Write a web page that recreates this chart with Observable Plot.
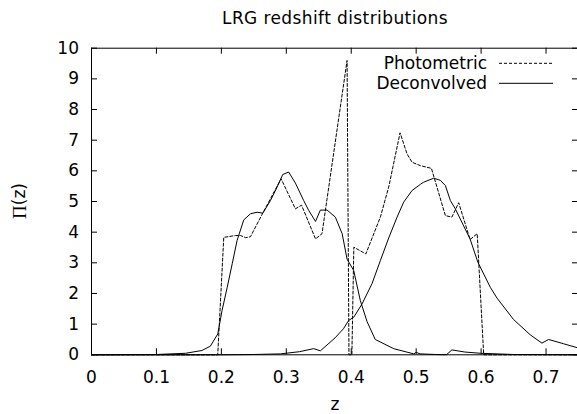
<!DOCTYPE html>
<html>
<head>
<meta charset="utf-8">
<script src="https://cdn.jsdelivr.net/npm/d3@7"></script>
<script src="https://cdn.jsdelivr.net/npm/@observablehq/plot@0.6"></script>
<style>
  html, body { margin: 0; padding: 0; background: #fff; overflow: hidden; }
  svg { display: block; }
</style>
</head>
<body>
<div id="chart"></div>
<script>
// ---- data ----
const title = "LRG redshift distributions";
const xLabel = "z";
const yLabelSymbol = "Π";
const yLabelRest = "(z)";
const seriesNames = ["Photometric", "Deconvolved"];

const xTickValues = [0, 0.1, 0.2, 0.3, 0.4, 0.5, 0.6, 0.7];
const xTickLabels = ["0", "0.1", "0.2", "0.3", "0.4", "0.5", "0.6", "0.7"];
const yTickValues = [0, 1, 2, 3, 4, 5, 6, 7, 8, 9, 10];

// Photometric redshift distribution [z, Π(z)]
const photometric = [
  [0, 0], [0.1944, 0], [0.2037, 3.83], [0.2217, 3.89], [0.2294, 3.89], [0.2375, 3.82],
  [0.2448, 3.85], [0.262, 4.55], [0.292, 5.74], [0.314, 4.76], [0.3235, 4.88],
  [0.345, 3.78], [0.355, 3.95], [0.3936, 9.6], [0.3965, 0], [0.401, 0], [0.404, 3.51],
  [0.4225, 3.29], [0.445, 4.5], [0.4577, 5.47], [0.4752, 7.24], [0.486, 6.55],
  [0.4937, 6.28], [0.5065, 6.17], [0.5235, 6.08], [0.545, 4.54], [0.555, 4.49],
  [0.5655, 4.96], [0.583, 3.76], [0.594, 3.95], [0.604, 0], [0.75, 0]
];

// Deconvolved distribution, low-z sample
const deconvolvedLow = [
  [0, 0], [0.1, 0.01], [0.145, 0.05], [0.17, 0.14], [0.183, 0.28], [0.1945, 0.68],
  [0.201, 1.44], [0.209, 2.2], [0.2167, 2.97], [0.2242, 3.73], [0.2345, 4.4],
  [0.2448, 4.6], [0.255, 4.65], [0.2638, 4.62], [0.2756, 5.03], [0.2858, 5.47],
  [0.2945, 5.88], [0.3037, 5.96], [0.314, 5.6], [0.3268, 5.03], [0.3345, 4.71],
  [0.345, 4.35], [0.3525, 4.72], [0.3628, 4.72], [0.3756, 4.49], [0.386, 3.95],
  [0.3936, 3.12], [0.4038, 2.75], [0.414, 1.77], [0.4244, 1.08], [0.437, 0.5],
  [0.4654, 0.2], [0.4963, 0.03], [0.5, 0.08], [0.506, 0.03], [0.53, 0.01],
  [0.5465, 0], [0.555, 0.16], [0.575, 0.09], [0.599, 0.05], [0.65, 0.01], [0.75, 0]
];

// Deconvolved distribution, high-z sample
const deconvolvedHigh = [
  [0, 0], [0.2, 0], [0.25, 0.01], [0.291, 0.03], [0.32, 0.1], [0.342, 0.2],
  [0.3525, 0.13], [0.375, 0.55], [0.388, 0.85], [0.396, 1.12], [0.404, 1.23],
  [0.4167, 1.66], [0.432, 2.32], [0.445, 3.08], [0.4577, 3.81], [0.4706, 4.49],
  [0.4808, 4.98], [0.4937, 5.36], [0.5065, 5.56], [0.5116, 5.63], [0.527, 5.76],
  [0.5373, 5.69], [0.545, 5.52], [0.5527, 5.03], [0.5603, 4.76], [0.5732, 4.2],
  [0.583, 3.78], [0.595, 3.02], [0.6142, 2.2], [0.6245, 1.85], [0.65, 1.15],
  [0.6758, 0.65], [0.6937, 0.38], [0.704, 0.5], [0.727, 0.36], [0.75, 0.22]
];

// ---- layout ----
const W = 577, H = 414;
const mL = 91, mR = -1, mT = 47.7, mB = 59.7;
const innerW = W - mL - mR, innerH = H - mT - mB;
const tickLen = 6;
const font = "DejaVu Sans";

const plot = Plot.plot({
  width: W,
  height: H,
  marginLeft: mL,
  marginRight: mR,
  marginTop: mT,
  marginBottom: mB,
  style: { fontFamily: font, fontSize: "17px", background: "white", color: "black", overflow: "visible" },
  x: { domain: [0, 0.75] },
  y: { domain: [0, 10] },
  marks: [
    Plot.frame({ stroke: "black", strokeWidth: 1 }),
    // inward ticks on all four sides
    Plot.ruleX(xTickValues, { x: d => d, insetTop: innerH - tickLen, stroke: "black" }),
    Plot.ruleX(xTickValues, { x: d => d, insetBottom: innerH - tickLen, stroke: "black" }),
    Plot.ruleY(yTickValues, { y: d => d, insetRight: innerW - tickLen, stroke: "black" }),
    Plot.ruleY(yTickValues, { y: d => d, insetLeft: innerW - tickLen, stroke: "black" }),
    Plot.axisX(xTickValues, { tickSize: 0, tickPadding: 16, label: null, fontSize: 17,
      tickFormat: d => xTickLabels[xTickValues.indexOf(d)] }),
    Plot.axisY(yTickValues, { tickSize: 0, tickPadding: 12.5, label: null, fontSize: 17 }),
    Plot.line(photometric, { x: d => d[0], y: d => d[1], stroke: "black", strokeWidth: 1, strokeDasharray: "3,2" }),
    Plot.line(deconvolvedLow, { x: d => d[0], y: d => d[1], stroke: "black", strokeWidth: 1 }),
    Plot.line(deconvolvedHigh, { x: d => d[0], y: d => d[1], stroke: "black", strokeWidth: 1 }),
    Plot.text([title], { frameAnchor: "top", dy: -30, fontSize: 17, lineAnchor: "middle" }),
    Plot.text([xLabel], { frameAnchor: "bottom", dy: 49.5, fontSize: 17, lineAnchor: "middle" })
  ]
});

document.getElementById("chart").appendChild(plot);

const svg = d3.select(plot);
// slightly wider title, as in the reference
svg.selectAll("text").filter(function () { return this.textContent === title; })
  .attr("letter-spacing", "0.4px");

// y label  Π(z)
const yl = svg.append("text")
  .attr("transform", `translate(19,${mT + innerH / 2}) rotate(-90)`)
  .attr("text-anchor", "middle")
  .attr("dominant-baseline", "central")
  .attr("font-size", 17)
  .attr("fill", "black");
yl.append("tspan").attr("font-family", "Liberation Serif").attr("font-size", 19).text(yLabelSymbol);
yl.append("tspan").attr("font-family", font).text(yLabelRest);

// legend (top right, inside the frame)
const legend = svg.append("g").attr("font-family", font).attr("font-size", 17);
const legendRows = [
  { name: seriesNames[0], dash: "3,2", y: 63.3 },
  { name: seriesNames[1], dash: null, y: 83.3 }
];
legendRows.forEach(r => {
  legend.append("text")
    .attr("x", 487).attr("y", r.y)
    .attr("text-anchor", "end")
    .attr("dominant-baseline", "central")
    .attr("fill", "black")
    .text(r.name);
  legend.append("line")
    .attr("x1", 499).attr("x2", 553)
    .attr("y1", r.y).attr("y2", r.y)
    .attr("stroke", "black")
    .attr("stroke-width", 1)
    .attr("stroke-dasharray", r.dash);
});
</script>
</body>
</html>
